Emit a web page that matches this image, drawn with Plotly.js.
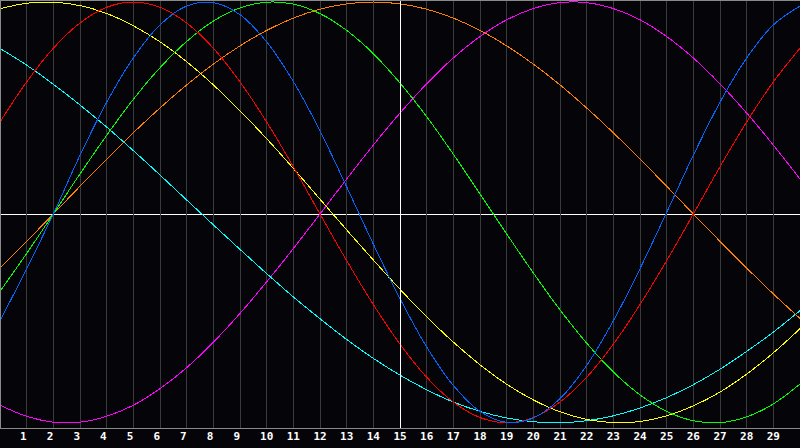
<!DOCTYPE html>
<html>
<head>
<meta charset="utf-8">
<script src="https://cdn.plot.ly/plotly-3.0.1.min.js"></script>
<style>html,body{margin:0;padding:0;background:#050408;}#chart{width:800px;height:448px;}</style>
</head>
<body>
<div id="chart"></div>
<script>
const days = [0,1,2,3,4,5,6,7,8,9,10,11,12,13,14,15,16,17,18,19,20,21,22,23,24,25,26,27,28,29,30];
const tickDays = [1,2,3,4,5,6,7,8,9,10,11,12,13,14,15,16,17,18,19,20,21,22,23,24,25,26,27,28,29];
const tickLabels = ["1","2","3","4","5","6","7","8","9","10","11","12","13","14","15","16","17","18","19","20","21","22","23","24","25","26","27","28","29"];

const redSeries = [0.434,0.623,0.782,0.901,0.975,1.0,0.975,0.901,0.782,0.623,0.434,0.223,0.0,-0.220,-0.427,-0.614,-0.770,-0.887,-0.960,-0.985,-0.960,-0.887,-0.770,-0.614,-0.427,-0.220,0.0,0.223,0.434,0.623,0.782];
const blueSeries = [-0.504,-0.258,0.0,0.277,0.527,0.736,0.892,0.981,0.997,0.940,0.812,0.625,0.392,0.128,-0.142,-0.399,-0.627,-0.809,-0.931,-0.983,-0.962,-0.871,-0.714,-0.504,-0.258,0.008,0.277,0.527,0.736,0.892,0.981];
const greenSeries = [-0.365,-0.186,0.0,0.189,0.371,0.541,0.690,0.814,0.910,0.972,0.999,0.990,0.945,0.866,0.756,0.618,0.459,0.282,0.095,-0.094,-0.278,-0.452,-0.609,-0.745,-0.853,-0.931,-0.975,-0.984,-0.957,-0.896,-0.802];
const orangeSeries = [-0.255,-0.129,0.0,0.131,0.259,0.383,0.500,0.609,0.707,0.793,0.866,0.924,0.966,0.991,1.0,0.991,0.966,0.924,0.866,0.793,0.707,0.609,0.500,0.383,0.259,0.131,0.0,-0.129,-0.255,-0.377,-0.493];
const yellowSeries = [0.968,0.994,0.999,0.983,0.946,0.888,0.812,0.718,0.609,0.487,0.355,0.215,0.070,-0.075,-0.217,-0.355,-0.485,-0.604,-0.711,-0.803,-0.877,-0.933,-0.969,-0.984,-0.979,-0.952,-0.905,-0.840,-0.755,-0.655,-0.541];
const cyanSeries = [0.781,0.702,0.612,0.514,0.410,0.299,0.184,0.066,-0.051,-0.167,-0.281,-0.391,-0.494,-0.592,-0.681,-0.760,-0.829,-0.887,-0.931,-0.962,-0.980,-0.985,-0.975,-0.952,-0.915,-0.866,-0.805,-0.732,-0.648,-0.557,-0.456];
const magentaSeries = [-0.902,-0.954,-0.982,-0.982,-0.954,-0.902,-0.824,-0.725,-0.605,-0.469,-0.320,-0.163,0.0,0.165,0.325,0.476,0.614,0.736,0.837,0.916,0.969,0.997,0.997,0.969,0.916,0.837,0.736,0.614,0.476,0.325,0.165];

const seriesList = [
  {y: magentaSeries, color: '#ff00ff'},
  {y: cyanSeries, color: '#00ffff'},
  {y: orangeSeries, color: '#ff8000'},
  {y: yellowSeries, color: '#ffff00'},
  {y: greenSeries, color: '#00ff00'},
  {y: redSeries, color: '#ff0000'},
  {y: blueSeries, color: '#0066ff'}
];

const traces = seriesList.map(s => ({
  x: days, y: s.y, type: 'scatter', mode: 'lines',
  line: {color: s.color, width: 1, shape: 'spline', smoothing: 1},
  hoverinfo: 'skip', showlegend: false
}));

const paddedLabels = tickLabels.map(t => t.length < 2 ? t + '\u00a0' : t);

const layout = {
  width: 800, height: 448,
  margin: {l: 0, r: 0, t: 0, b: 20, pad: 0},
  paper_bgcolor: '#050408',
  plot_bgcolor: '#050408',
  showlegend: false,
  xaxis: {
    range: [0, 30], showgrid: true, gridcolor: '#3a3a3a', gridwidth: 1,
    tickmode: 'array', tickvals: tickDays, ticktext: paddedLabels,
    ticks: '', zeroline: false, showline: false, fixedrange: true,
    tickfont: {family: 'DejaVu Sans Mono', size: 11, color: '#ffffff', weight: 'bold'}
  },
  yaxis: {
    range: [-1.0094, 1.0094], showgrid: false, zeroline: false,
    showticklabels: false, ticks: '', showline: false, fixedrange: true
  },
  shapes: [
    {type: 'line', xref: 'x', yref: 'paper', x0: 15, x1: 15, y0: 0, y1: 1, line: {color: '#ffffff', width: 1}, layer: 'above'},
    {type: 'line', xref: 'paper', yref: 'y', x0: 0, x1: 1, y0: 0, y1: 0, line: {color: '#ffffff', width: 1}, layer: 'below'},
    {type: 'line', xref: 'paper', yref: 'paper', x0: 0, x1: 1, y0: 1, y1: 1, line: {color: '#8a8a8a', width: 2}, layer: 'above'},
    {type: 'line', xref: 'paper', yref: 'paper', x0: 0, x1: 0, y0: 0, y1: 1, line: {color: '#8a8a8a', width: 2}, layer: 'above'},
    {type: 'line', xref: 'paper', yref: 'paper', x0: 0, x1: 1, y0: 0, y1: 0, line: {color: '#8a8a8a', width: 1}, layer: 'above'}
  ]
};

Plotly.newPlot('chart', traces, layout, {staticPlot: true, displayModeBar: false}).then(() => {
  document.querySelectorAll('#chart .shapelayer path, #chart path.js-line').forEach(p => {
    p.style.shapeRendering = 'crispEdges';
  });
});
</script>
</body>
</html>
